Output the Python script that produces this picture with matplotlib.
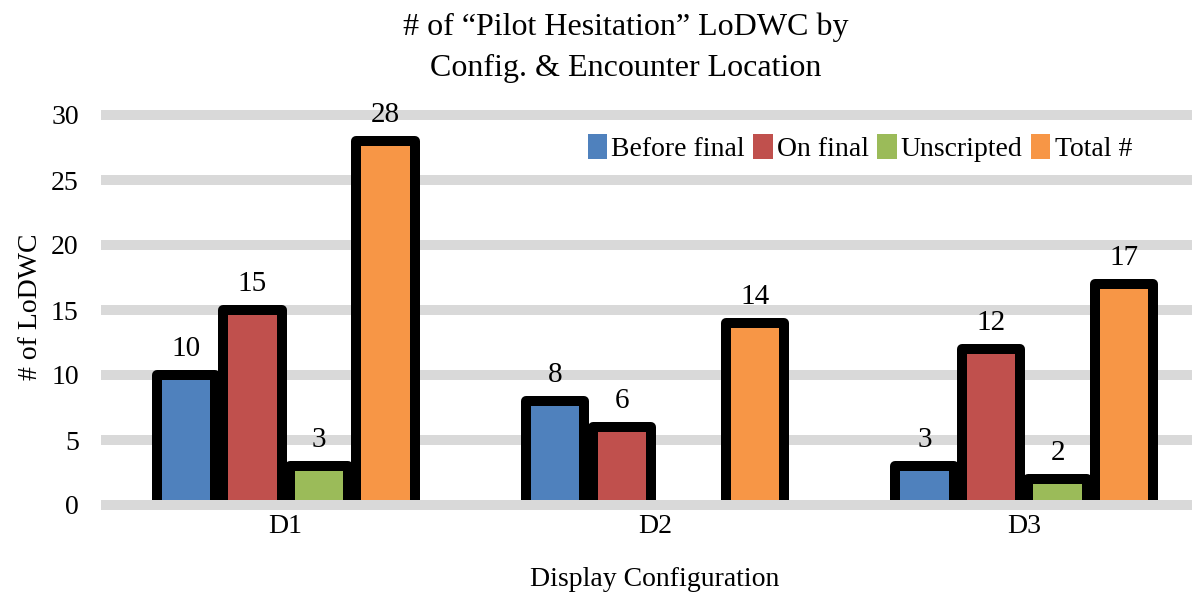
import matplotlib.pyplot as plt
import numpy as np

plt.rcParams['font.family'] = ['Liberation Serif', 'DejaVu Serif']

configs = ["D1", "D2", "D3"]
series = ["Before final", "On final", "Unscripted", "Total #"]
before_final = [10, 8, 3]
on_final = [15, 6, 12]
unscripted = [3, 0, 2]
total = [28, 14, 17]
colors = ["#4F81BD", "#C0504D", "#9BBB59", "#F79646"]

W, H = 1192, 592
fig = plt.figure(figsize=(W / 100, H / 100), dpi=100)
ax = fig.add_axes([101 / W, 1 - 511.5 / H, 1108 / W, (511.5 - 102) / H])

x = np.arange(len(configs))
pitch = 0.18
width = 0.158
edge = 10 * 0.72  # 10 px outline

for i, (name, vals, c) in enumerate(zip(series, [before_final, on_final, unscripted, total], colors)):
    vals = np.array(vals)
    keep = vals > 0
    xs = x[keep] + (i - 1.5) * pitch
    ax.bar(xs, vals[keep], width, color=c, edgecolor="black",
           linewidth=edge, joinstyle="round", zorder=3, label=name)
    for xi, v in zip(xs, vals[keep]):
        ax.annotate(str(v), (xi, v), xytext=(0, 14), textcoords="offset points",
                    ha="center", va="baseline", fontsize=21, zorder=5)

ax.set_ylim(-0.5, 31)
ax.set_xlim(-0.5, 2.5)
ax.set_yticks(range(0, 31, 5))
ax.yaxis.grid(True, color="#D9D9D9", linewidth=edge, zorder=0)
ax.set_axisbelow(True)
# baseline drawn above the bars so their bottom outline is hidden
ax.axhline(0, color="#D9D9D9", linewidth=edge, zorder=4)

ax.set_xticks(x)
ax.set_xticklabels(configs, fontsize=20)
ax.tick_params(axis="x", length=0, pad=2)
ax.tick_params(axis="y", length=0, pad=16, labelsize=20)
for s in ax.spines.values():
    s.set_visible(False)

ax.set_xlabel("Display Configuration", fontsize=20, labelpad=20)
ax.set_ylabel("# of LoDWC", fontsize=20, labelpad=6)

fig.text(626 / W, 1 - 27 / H, "# of \u201cPilot Hesitation\u201d LoDWC by",
         ha="center", va="center", fontsize=23)
fig.text(626 / W, 1 - 68 / H, "Config. & Encounter Location",
         ha="center", va="center", fontsize=23)

leg = ax.legend(loc="upper left", bbox_to_anchor=(578 / W, 1 - 124 / H),
                bbox_transform=fig.transFigure, ncol=4, fontsize=20,
                frameon=True, fancybox=False, handlelength=0.7, handleheight=1.0,
                handletextpad=0.15, columnspacing=0.3, borderpad=0.35,
                borderaxespad=0)
leg.get_frame().set_edgecolor("white")
leg.get_frame().set_facecolor("white")
leg.get_frame().set_alpha(1)
leg.set_zorder(6)
for h in leg.legend_handles:
    h.set_linewidth(0)

fig.savefig("out.png", dpi=100)
